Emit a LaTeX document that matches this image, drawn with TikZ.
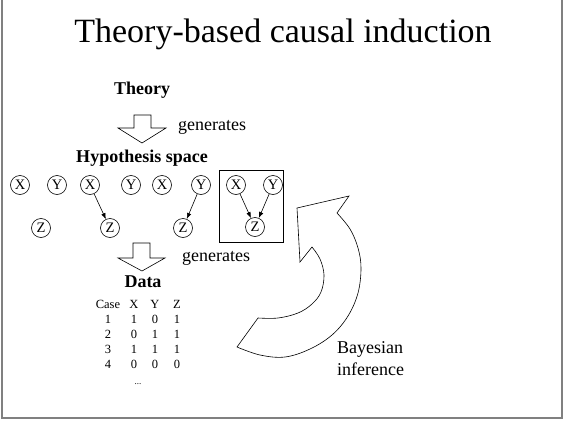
\documentclass[tikz,border=0pt]{standalone}
\usepackage{fontspec}
\setmainfont{Liberation Serif}
\usetikzlibrary{arrows.meta}
\begin{document}
\begin{tikzpicture}[x=1pt,y=-1pt,
  var/.style={draw,circle,minimum size=19pt,inner sep=0pt,line width=0.6pt,font=\fontsize{14.5}{14.5}\selectfont},
  edge/.style={-{Latex[length=6pt,width=4.5pt]},line width=0.6pt},
  lbl/.style={anchor=base,inner sep=0pt,font=\fontsize{18}{20}\selectfont\bfseries},
  txt/.style={anchor=base west,inner sep=0pt,font=\fontsize{18}{20}\selectfont},
  cell/.style={anchor=base,inner sep=0pt,font=\fontsize{12.5}{12.5}\selectfont},
  blockarrow/.style={draw,line width=0.6pt,fill=white,line join=miter}]
\useasboundingbox (0,0) rectangle (564,420);
\draw[gray,line width=1.5pt] (2,0) -- (2,418) -- (562,418) -- (562,0);

\node[anchor=base,inner sep=0pt,font=\fontsize{34}{36}\selectfont] (title) at (283,43) {Theory-based causal induction};

\node[lbl] (theory) at (142,94) {Theory};
\draw[blockarrow] (134,115) -- (151,115) -- (151,128) -- (166,128) -- (142,143) -- (118,128) -- (134,128) -- cycle;
\node[txt] (gen1) at (178,130) {generates};

\node[lbl] (hyp) at (142,162) {Hypothesis space};

\node[var] (x1) at (20,185) {X};
\node[var] (y1) at (57,185) {Y};
\node[var] (z1) at (41,228) {Z};

\node[var] (x2) at (90,185) {X};
\node[var] (y2) at (131,185) {Y};
\node[var] (z2) at (110,228) {Z};
\draw[edge] (x2) -- (z2);

\node[var] (x3) at (162,185) {X};
\node[var] (y3) at (201,185) {Y};
\node[var] (z3) at (183,228) {Z};
\draw[edge] (y3) -- (z3);

\node[var] (x4) at (236,185) {X};
\node[var] (y4) at (273,185) {Y};
\node[var] (z4) at (255,227) {Z};
\draw[edge] (x4) -- (z4);
\draw[edge] (y4) -- (z4);
\draw[line width=0.7pt] (219,170) rectangle (283,242);

\draw[blockarrow] (133,243) -- (150,243) -- (150,258) -- (165,258) -- (142,271) -- (118,258) -- (133,258) -- cycle;
\node[txt] (gen2) at (182,261) {generates};

\node[lbl] (data) at (143,287) {Data};

\node[cell] (hcase) at (108,308) {Case};
\node[cell] (hx) at (134,308) {X};
\node[cell] (hy) at (155,308) {Y};
\node[cell] (hz) at (177,308) {Z};
\foreach \r/\a/\b/\c [count=\i] in {1/1/0/1, 2/0/1/1, 3/1/1/1, 4/0/0/0} {
  \node[cell] (c\i) at (108,308+15*\i) {\r};
  \node[cell] (a\i) at (134,308+15*\i) {\a};
  \node[cell] (b\i) at (155,308+15*\i) {\b};
  \node[cell] (d\i) at (177,308+15*\i) {\c};
}
\node[cell,font=\fontsize{9}{9}\selectfont] (dots) at (138,384) {...};

\draw[line width=0.6pt,fill=white,line join=miter]
  plot[smooth,tension=0.6] coordinates {(237,347) (260,355) (285,357) (310,349) (332,335) (348,316) (358,293) (361,268) (358,248) (350,229) (337,213)}
  -- (349,196) -- (297,208) -- (300,262) -- (312,247)
  -- plot[smooth,tension=0.6] coordinates {(312,247) (320,259) (324,275) (321,292) (312,304) (298,313) (278,318) (258,318)}
  -- cycle;

\node[txt] (bayes) at (337,353) {Bayesian};
\node[txt] (infer) at (337,375) {inference};
\end{tikzpicture}
\end{document}
